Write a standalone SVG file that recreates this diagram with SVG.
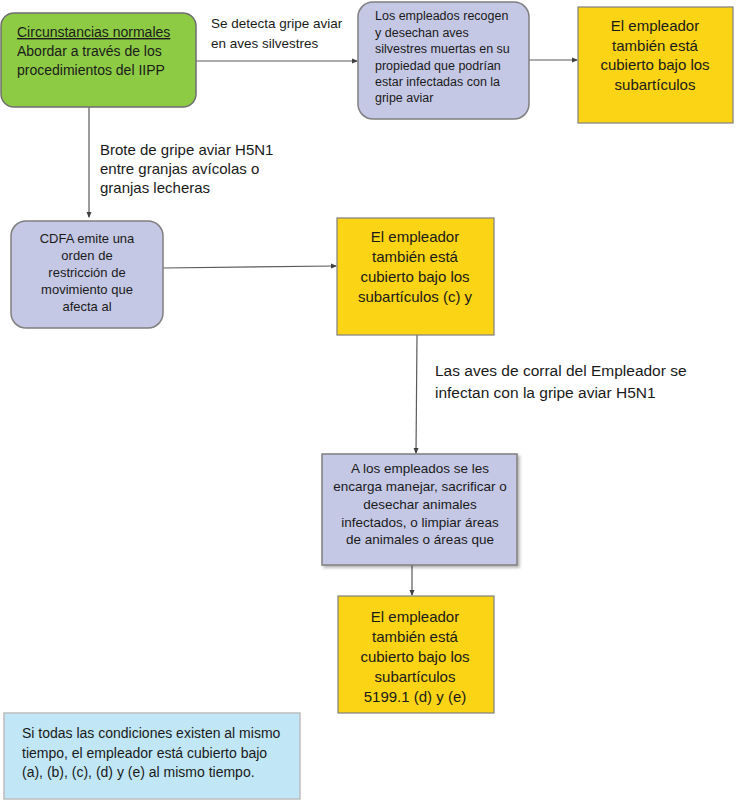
<svg xmlns="http://www.w3.org/2000/svg" width="736" height="801" viewBox="0 0 736 801">
<defs>
<marker id="ah" markerWidth="6" markerHeight="6" refX="5" refY="3" orient="auto" markerUnits="userSpaceOnUse">
<path d="M0,0.5 L6,3 L0,5.5 z" fill="#404040"/>
</marker>
<filter id="sh" x="-5%" y="-5%" width="115%" height="115%">
<feDropShadow dx="2" dy="2" stdDeviation="1.5" flood-color="#000" flood-opacity="0.3"/>
</filter>
<style>
text{font-family:"Liberation Sans",Arial,sans-serif;fill:#1a1a1a}
.c{text-anchor:middle}
.y{fill:#FAD415;stroke:#7f7f7f;stroke-width:1.2}
.lav{fill:#C5C8E4;stroke:#7f7f7f;stroke-width:1.5}
.ln{stroke:#5a5a5a;stroke-width:1.2;fill:none}
</style>
</defs>
<rect width="736" height="801" fill="#fff"/>
<g id="connectors">
<line class="ln" x1="196" y1="61" x2="357" y2="61" marker-end="url(#ah)"/>
<line class="ln" x1="529" y1="60" x2="577" y2="60" marker-end="url(#ah)"/>
<line class="ln" x1="89" y1="107" x2="89" y2="217" marker-end="url(#ah)"/>
<line class="ln" x1="163" y1="268" x2="336" y2="266" marker-end="url(#ah)"/>
<line class="ln" x1="417" y1="335" x2="416" y2="453" marker-end="url(#ah)"/>
<line class="ln" x1="412" y1="565" x2="412" y2="595" marker-end="url(#ah)"/>
<text x="211" y="28" font-size="13.5">Se detecta gripe aviar</text>
<text x="211" y="48" font-size="13.5">en aves silvestres</text>
<text x="100" y="155" font-size="15">Brote de gripe aviar H5N1</text>
<text x="100" y="174" font-size="15">entre granjas avícolas o</text>
<text x="100" y="193" font-size="15">granjas lecheras</text>
<text x="435" y="376" font-size="15.5">Las aves de corral del Empleador se</text>
<text x="435" y="398" font-size="15.5">infectan con la gripe aviar H5N1</text>
</g>
<g id="normal">
<rect x="1" y="13" width="195" height="94" rx="13" fill="#8DCB45" stroke="#6f6f6f" stroke-width="1.5"/>
<text x="17" y="37" font-size="14" text-decoration="underline">Circunstancias normales</text>
<text x="17" y="56" font-size="14">Abordar a través de los</text>
<text x="17" y="75" font-size="14">procedimientos del IIPP</text>
</g>
<g id="silvestres">
<rect class="lav" x="358" y="2" width="171" height="117" rx="15"/>
<g font-size="12.5">
<text x="375" y="20">Los empleados recogen</text>
<text x="375" y="37">y desechan aves</text>
<text x="375" y="53">silvestres muertas en su</text>
<text x="375" y="70">propiedad que podrían</text>
<text x="375" y="86">estar infectadas con la</text>
<text x="375" y="102">gripe aviar</text>
</g>
</g>
<g id="cubierto1">
<rect class="y" x="578" y="7" width="155" height="116"/>
<g font-size="15">
<text class="c" x="655" y="31">El empleador</text>
<text class="c" x="655" y="51">también está</text>
<text class="c" x="655" y="70">cubierto bajo los</text>
<text class="c" x="655" y="90">subartículos</text>
</g>
</g>
<g id="cdfa">
<rect class="lav" x="11" y="221" width="152" height="107" rx="15"/>
<g font-size="13">
<text class="c" x="87" y="243">CDFA emite una</text>
<text class="c" x="87" y="260">orden de</text>
<text class="c" x="87" y="277">restricción de</text>
<text class="c" x="87" y="294">movimiento que</text>
<text class="c" x="87" y="311">afecta al</text>
</g>
</g>
<g id="cubierto2">
<rect class="y" x="337" y="218" width="157" height="117"/>
<g font-size="15">
<text class="c" x="415" y="242">El empleador</text>
<text class="c" x="415" y="262">también está</text>
<text class="c" x="415" y="282">cubierto bajo los</text>
<text class="c" x="415" y="302">subartículos (c) y</text>
</g>
</g>
<g id="empleados">
<rect class="lav" x="322" y="454" width="195" height="111" filter="url(#sh)" stroke="#c0c0c0" stroke-width="1"/>
<g font-size="13.5">
<text class="c" x="420" y="473">A los empleados se les</text>
<text class="c" x="420" y="491">encarga manejar, sacrificar o</text>
<text class="c" x="420" y="509">desechar animales</text>
<text class="c" x="420" y="527">infectados, o limpiar áreas</text>
<text class="c" x="420" y="544">de animales o áreas que</text>
</g>
</g>
<g id="cubierto3">
<rect class="y" x="338" y="596" width="156" height="117"/>
<g font-size="15">
<text class="c" x="415" y="622">El empleador</text>
<text class="c" x="415" y="642">también está</text>
<text class="c" x="415" y="662">cubierto bajo los</text>
<text class="c" x="415" y="682">subartículos</text>
<text class="c" x="415" y="702">5199.1 (d) y (e)</text>
</g>
</g>
<g id="nota">
<rect x="4" y="713" width="296" height="86" fill="#C1E6F5" stroke="#bdbdbd" stroke-width="1.5"/>
<g font-size="14">
<text x="22" y="738">Si todas las condiciones existen al mismo</text>
<text x="22" y="758">tiempo, el empleador está cubierto bajo</text>
<text x="22" y="777">(a), (b), (c), (d) y (e) al mismo tiempo.</text>
</g>
</g>
</svg>
